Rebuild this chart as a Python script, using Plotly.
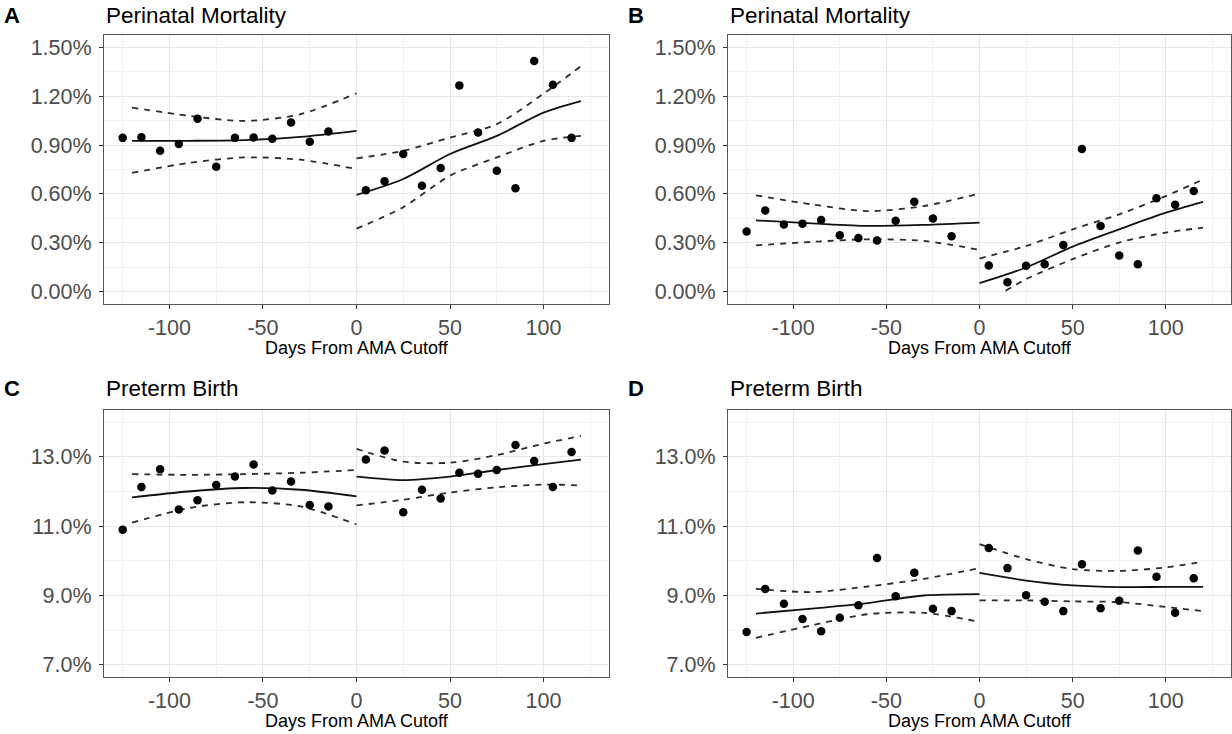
import plotly.graph_objects as go

W, H = 1232, 734

# Bin centres (days relative to the advanced-maternal-age cutoff)
days_pre = [-125, -115, -105, -95, -85, -75, -65, -55, -45, -35, -25, -15]
days_post = [5, 15, 25, 35, 45, 55, 65, 75, 85, 95, 105, 115]

# Days at which the fitted curves and their confidence bands are given
fit_days_pre = [-120, -90, -60, -30, 0]
fit_days_post = [0, 25, 50, 75, 100, 120]

# Panel A: perinatal mortality (%)
a_pre = [0.944, 0.948, 0.865, 0.906, 1.062, 0.767, 0.944, 0.946, 0.938, 1.038, 0.920, 0.983]
a_post = [0.623, 0.678, 0.845, 0.651, 0.759, 1.266, 0.977, 0.743, 0.635, 1.416, 1.270, 0.944]
a_fit_pre = [0.926, 0.926, 0.930, 0.950, 0.987]
a_hi_pre = [1.130, 1.080, 1.048, 1.089, 1.217]
a_lo_pre = [0.729, 0.790, 0.824, 0.810, 0.753]
a_fit_post = [0.594, 0.692, 0.845, 0.956, 1.099, 1.170]
a_hi_post = [0.818, 0.865, 0.946, 1.028, 1.215, 1.384]
a_lo_post = [0.387, 0.519, 0.712, 0.824, 0.926, 0.956]

# Panel B: perinatal mortality (%)
b_pre = [0.369, 0.499, 0.412, 0.418, 0.440, 0.346, 0.330, 0.314, 0.436, 0.552, 0.450, 0.340]
b_post = [0.161, 0.059, 0.159, 0.169, 0.287, 0.876, 0.404, 0.222, 0.169, 0.573, 0.534, 0.618]
b_fit_pre = [0.438, 0.420, 0.404, 0.410, 0.424]
b_hi_pre = [0.591, 0.536, 0.495, 0.526, 0.603]
b_lo_pre = [0.285, 0.306, 0.322, 0.312, 0.257]
b_fit_post = [0.053, 0.149, 0.277, 0.383, 0.485, 0.552]
b_hi_post = [0.204, 0.281, 0.383, 0.475, 0.587, 0.689]
b_lo_post_days = [14, 25, 50, 75, 100, 120]   # band falls below 0% before day 14
b_lo_post = [0.006, 0.077, 0.200, 0.302, 0.363, 0.393]

# Panel C: preterm birth (%)
c_pre = [10.90, 12.13, 12.64, 11.48, 11.75, 12.19, 12.43, 12.78, 12.03, 12.29, 11.61, 11.57]
c_post = [12.92, 13.18, 11.40, 12.05, 11.80, 12.54, 12.51, 12.62, 13.34, 12.88, 12.13, 13.14]
c_fit_pre = [11.83, 12.00, 12.10, 12.05, 11.86]
c_hi_pre = [12.50, 12.48, 12.50, 12.54, 12.62]
c_lo_pre = [11.10, 11.52, 11.69, 11.57, 11.05]
c_fit_post = [12.43, 12.33, 12.43, 12.62, 12.79, 12.92]
c_hi_post = [13.23, 12.86, 12.83, 13.05, 13.38, 13.60]
c_lo_post = [11.60, 11.76, 11.97, 12.12, 12.20, 12.17]

# Panel D: preterm birth (%)
d_pre = [7.95, 9.19, 8.76, 8.32, 7.97, 8.36, 8.72, 10.08, 8.98, 9.66, 8.62, 8.55]
d_post = [10.37, 9.79, 9.01, 8.82, 8.55, 9.90, 8.63, 8.85, 10.30, 9.54, 8.50, 9.50]
d_fit_pre = [8.48, 8.62, 8.78, 9.00, 9.04]
d_hi_pre = [9.19, 9.10, 9.26, 9.48, 9.79]
d_lo_pre = [7.78, 8.14, 8.46, 8.50, 8.24]
d_fit_post = [9.65, 9.43, 9.29, 9.24, 9.25, 9.25]
d_hi_post = [10.48, 10.05, 9.76, 9.71, 9.81, 9.98]
d_lo_post = [8.86, 8.86, 8.83, 8.81, 8.67, 8.55]

# Axis ticks
x_ticks = [-100, -50, 0, 50, 100]
x_minor = [-125, -75, -25, 25, 75, 125]
mort_ticks = [0.0, 0.3, 0.6, 0.9, 1.2, 1.5]
mort_minor = [0.15, 0.45, 0.75, 1.05, 1.35]
preterm_ticks = [7.0, 9.0, 11.0, 13.0]
preterm_minor = [8.0, 10.0, 12.0, 14.0]

panel_tags = ["A", "B", "C", "D"]
panel_titles = ["Perinatal Mortality", "Perinatal Mortality", "Preterm Birth", "Preterm Birth"]
x_title = "Days From AMA Cutoff"

panels = [
    dict(pts=(a_pre, a_post),
         segs=[(fit_days_pre, a_fit_pre, fit_days_pre, a_hi_pre, fit_days_pre, a_lo_pre),
               (fit_days_post, a_fit_post, fit_days_post, a_hi_post, fit_days_post, a_lo_post)],
         yticks=mort_ticks, yminor=mort_minor, yfmt="{:.2f}%", yrange=[-0.075, 1.575]),
    dict(pts=(b_pre, b_post),
         segs=[(fit_days_pre, b_fit_pre, fit_days_pre, b_hi_pre, fit_days_pre, b_lo_pre),
               (fit_days_post, b_fit_post, fit_days_post, b_hi_post, b_lo_post_days, b_lo_post)],
         yticks=mort_ticks, yminor=mort_minor, yfmt="{:.2f}%", yrange=[-0.075, 1.575]),
    dict(pts=(c_pre, c_post),
         segs=[(fit_days_pre, c_fit_pre, fit_days_pre, c_hi_pre, fit_days_pre, c_lo_pre),
               (fit_days_post, c_fit_post, fit_days_post, c_hi_post, fit_days_post, c_lo_post)],
         yticks=preterm_ticks, yminor=preterm_minor, yfmt="{:.1f}%", yrange=[6.65, 14.35]),
    dict(pts=(d_pre, d_post),
         segs=[(fit_days_pre, d_fit_pre, fit_days_pre, d_hi_pre, fit_days_pre, d_lo_pre),
               (fit_days_post, d_fit_post, fit_days_post, d_hi_post, fit_days_post, d_lo_post)],
         yticks=preterm_ticks, yminor=preterm_minor, yfmt="{:.1f}%", yrange=[6.65, 14.35]),
]

# Plot-box geometry in pixels: (left, right) per column, (top, bottom) per row
col_px = [(104, 609), (728, 1231)]
row_px = [(35, 304), (410, 677)]

FONT = "Liberation Sans"
TICK_COLOR = "#4d4d4d"

fig = go.Figure()
layout = dict(
    width=W, height=H, autosize=False,
    margin=dict(l=0, r=0, t=0, b=0),
    paper_bgcolor="white", plot_bgcolor="white",
    showlegend=False,
    font=dict(family=FONT, color="black"),
)
annotations = []

for i, p in enumerate(panels):
    r, c = divmod(i, 2)
    (x0, x1), (y0, y1) = col_px[c], row_px[r]
    sfx = "" if i == 0 else str(i + 1)
    xa, ya = "x" + sfx, "y" + sfx

    # fitted curves with dashed confidence bands
    for fx, fy, hx, hy, lx, ly in p["segs"]:
        for bx, by in ((hx, hy), (lx, ly)):
            fig.add_trace(go.Scatter(x=bx, y=by, mode="lines", xaxis=xa, yaxis=ya,
                                     line=dict(color="#2b2b2b", width=1.8, dash="6px,6px",
                                               shape="spline", smoothing=0.8),
                                     hoverinfo="skip"))
        fig.add_trace(go.Scatter(x=fx, y=fy, mode="lines", xaxis=xa, yaxis=ya,
                                 line=dict(color="#111111", width=1.8,
                                           shape="spline", smoothing=0.8),
                                 hoverinfo="skip"))

    # binned means
    pre, post = p["pts"]
    fig.add_trace(go.Scatter(x=days_pre + days_post, y=pre + post, mode="markers",
                             xaxis=xa, yaxis=ya,
                             marker=dict(color="black", size=8.5, line=dict(width=0))))

    axis_common = dict(
        showline=True, mirror=True, linecolor="#555555", linewidth=1.2,
        showgrid=True, gridcolor="#e8e8e8", gridwidth=1.1, zeroline=False,
        ticks="outside", ticklen=4, tickwidth=1, tickcolor="#333333",
        tickfont=dict(family=FONT, size=21.5, color=TICK_COLOR),
        fixedrange=True,
    )
    layout["xaxis" + sfx] = dict(
        axis_common,
        domain=[x0 / W, x1 / W], anchor=ya, range=[-135, 135],
        tickmode="array", tickvals=x_ticks, ticktext=[str(v) for v in x_ticks],
        minor=dict(tickmode="array", tickvals=x_minor, showgrid=True,
                   gridcolor="#f2f2f2", gridwidth=0.8, ticks=""),
    )
    layout["yaxis" + sfx] = dict(
        axis_common,
        domain=[1 - y1 / H, 1 - y0 / H], anchor=xa, range=p["yrange"],
        tickmode="array", tickvals=p["yticks"],
        ticktext=[p["yfmt"].format(v) for v in p["yticks"]],
        minor=dict(tickmode="array", tickvals=p["yminor"], showgrid=True,
                   gridcolor="#f2f2f2", gridwidth=0.8, ticks=""),
        ticklabelstandoff=3,
    )

    # panel tag, title and x-axis title
    top_y = 15 if r == 0 else 388
    tag_x = 12 if c == 0 else 636
    annotations.append(dict(text="<b>%s</b>" % panel_tags[i], xref="paper", yref="paper",
                            x=tag_x / W, y=1 - top_y / H, xanchor="center", yanchor="middle",
                            showarrow=False, font=dict(family=FONT, size=22, color="black")))
    annotations.append(dict(text=panel_titles[i], xref="paper", yref="paper",
                            x=x0 / W, y=1 - top_y / H, xanchor="left", yanchor="middle",
                            showarrow=False, font=dict(family=FONT, size=22.5, color="black")))
    annotations.append(dict(text=x_title, xref="paper", yref="paper",
                            x=(x0 + x1) / 2 / W, y=1 - (y1 + 44) / H,
                            xanchor="center", yanchor="middle",
                            showarrow=False, font=dict(family=FONT, size=18, color="black")))

layout["annotations"] = annotations
fig.update_layout(**layout)
fig.write_html("out.html")
